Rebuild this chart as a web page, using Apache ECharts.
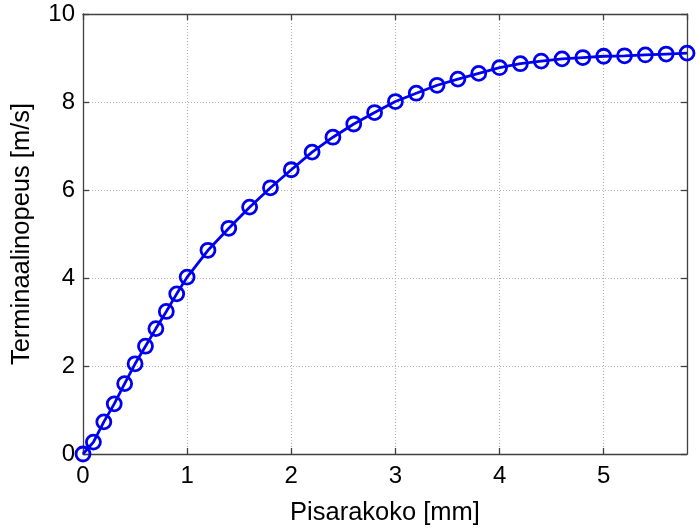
<!DOCTYPE html>
<html>
<head>
<meta charset="utf-8">
<script src="https://cdn.jsdelivr.net/npm/echarts@6/dist/echarts.min.js"></script>
<style>html,body{margin:0;padding:0;background:#fff;}#c{width:696px;height:531px;}</style>
</head>
<body>
<div id="c"></div>
<script>
const dropSize = [0,0.1,0.2,0.3,0.4,0.5,0.6,0.7,0.8,0.9,1.0,1.2,1.4,1.6,1.8,2.0,2.2,2.4,2.6,2.8,3.0,3.2,3.4,3.6,3.8,4.0,4.2,4.4,4.6,4.8,5.0,5.2,5.4,5.6,5.8];
const terminalVelocity = [0,0.27,0.73,1.14,1.6,2.05,2.45,2.85,3.24,3.64,4.02,4.63,5.13,5.61,6.05,6.46,6.86,7.2,7.5,7.76,8.01,8.2,8.38,8.52,8.65,8.78,8.87,8.93,8.98,9.01,9.04,9.05,9.07,9.09,9.11];
const xName = 'Pisarakoko [mm]';
const yName = 'Terminaalinopeus [m/s]';
const xMin = 0, xMax = 5.8, xStep = 1;
const yMin = 0, yMax = 10, yStep = 2;

const chart = echarts.init(document.getElementById('c'));
const font = 'Liberation Sans, Arial, sans-serif';
const axisColor = '#404040';
const common = {
  axisLine: {show: true, onZero: false, lineStyle: {color: axisColor, width: 1.3}},
  axisTick: {show: true, inside: true, length: 6, lineStyle: {color: axisColor, width: 1.3}},
};
chart.setOption({
  animation: false,
  backgroundColor: '#fff',
  grid: {left: 83, top: 14, right: 9, bottom: 71, containLabel: false},
  xAxis: [{
    type: 'value', min: xMin, max: xMax, interval: xStep, position: 'bottom',
    name: xName, nameLocation: 'middle', nameGap: 46,
    nameTextStyle: {fontFamily: font, fontSize: 25.5, color: '#000'},
    ...common,
    axisLabel: {fontFamily: font, fontSize: 24, color: '#000', margin: 10, showMaxLabel: false},
    splitLine: {show: true, lineStyle: {color: '#b0b0b0', type: [1, 2], width: 1}}
  }, {
    type: 'value', min: xMin, max: xMax, interval: xStep, position: 'top',
    ...common,
    axisLabel: {show: false},
    splitLine: {show: false}
  }],
  yAxis: [{
    type: 'value', min: yMin, max: yMax, interval: yStep, position: 'left',
    name: yName, nameLocation: 'middle', nameGap: 48,
    nameTextStyle: {fontFamily: font, fontSize: 25.5, color: '#000'},
    ...common,
    axisLabel: {fontFamily: font, fontSize: 24, color: '#000', margin: 8, padding: [3, 0, 0, 0]},
    splitLine: {show: true, lineStyle: {color: '#b0b0b0', type: [1, 2], width: 1}}
  }, {
    type: 'value', min: yMin, max: yMax, interval: yStep, position: 'right',
    ...common,
    axisLabel: {show: false},
    splitLine: {show: false}
  }],
  series: [{
    type: 'line',
    data: dropSize.map((x, i) => [x, terminalVelocity[i]]),
    lineStyle: {color: '#0000f0', width: 2.8},
    symbol: 'circle',
    symbolSize: 14,
    showAllSymbol: true,
    itemStyle: {color: 'rgba(0,0,0,0)', borderColor: '#0000f0', borderWidth: 2.8},
    clip: false,
    z: 5
  }]
});
</script>
</body>
</html>
